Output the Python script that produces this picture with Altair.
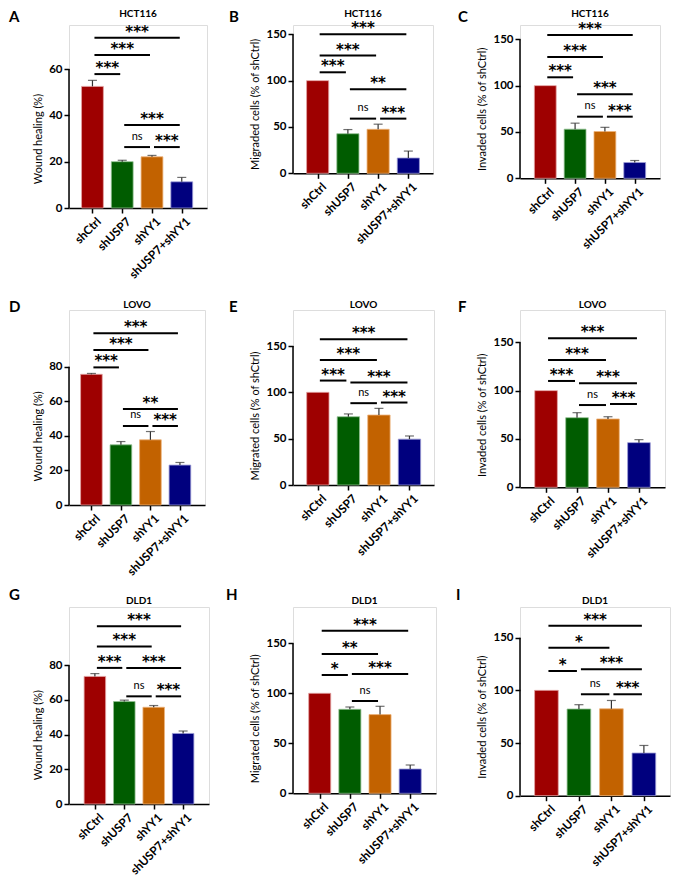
import json
import altair as alt
import pandas as pd

# ---------------- data ----------------
groups = ["shCtrl", "shUSP7", "shYY1", "shUSP7+shYY1"]
bar_colors = ["#9E0000", "#005C00", "#C26200", "#00007E"]
edge_colors = ["#E3A3A3", "#92C092", "#EDB27A", "#9A9AD6"]

panel_letters = ["A", "B", "C", "D", "E", "F", "G", "H", "I"]
cell_lines = ["HCT116", "HCT116", "HCT116", "LOVO", "LOVO", "LOVO", "DLD1", "DLD1", "DLD1"]
y_titles = [
    "Wound healing (%)", "Migraded cells (% of shCtrl)", "Invaded cells (% of shCtrl)",
    "Wound healing (%)", "Migrated cells (% of shCtrl)", "Invaded cells (% of shCtrl)",
    "Wound healing (%)", "Migrated cells (% of shCtrl)", "Invaded cells (% of shCtrl)",
]

A_mean = [52.5, 20.0, 22.1, 11.3]
A_err = [2.6, 0.6, 0.6, 1.9]
B_mean = [100, 42.7, 47.5, 16.5]
B_err = [0, 4.5, 5.5, 7.5]
C_mean = [100, 53.0, 50.5, 17.0]
C_err = [0, 6.5, 4.5, 2.2]
D_mean = [75.6, 34.8, 37.7, 23.1]
D_err = [0.5, 1.9, 4.8, 1.5]
E_mean = [100, 73.7, 75.5, 49.5]
E_err = [0, 3.0, 7.2, 3.4]
F_mean = [100, 72.0, 70.7, 46.2]
F_err = [0, 5.2, 2.3, 3.1]
G_mean = [73.6, 59.1, 55.8, 40.7]
G_err = [1.6, 0.8, 1.0, 1.4]
H_mean = [100, 84.0, 78.7, 24.3]
H_err = [0, 2.3, 8.3, 4.0]
I_mean = [100, 82.3, 82.5, 40.5]
I_err = [0, 4.1, 7.9, 7.2]

# significance brackets: (from group, to group, level, label)
A_sig = [(0, 3, 73.5, "***"), (0, 2, 66.0, "***"), (0, 1, 57.8, "***"),
         (1, 3, 35.8, "***"), (1, 2, 26.3, "ns"), (2, 3, 26.3, "***")]
B_sig = [(0, 3, 150.0, "***"), (0, 2, 127.0, "***"), (0, 1, 109.0, "***"),
         (1, 3, 90.6, "**"), (1, 2, 59.0, "ns"), (2, 3, 59.0, "***")]
C_sig = [(0, 3, 154.6, "***"), (0, 2, 131.0, "***"), (0, 1, 109.0, "***"),
         (1, 3, 90.6, "***"), (1, 2, 66.5, "ns"), (2, 3, 66.5, "***")]
D_sig = [(0, 3, 99.3, "***"), (0, 2, 89.6, "***"), (0, 1, 79.6, "***"),
         (1, 3, 55.5, "**"), (1, 2, 45.7, "ns"), (2, 3, 45.7, "***")]
E_sig = [(0, 3, 157.2, "***"), (0, 2, 134.9, "***"), (0, 1, 112.7, "***"),
         (1, 3, 110.5, "***"), (1, 2, 88.3, "ns"), (2, 3, 89.0, "***")]
F_sig = [(0, 3, 154.2, "***"), (0, 2, 131.7, "***"), (0, 1, 110.0, "***"),
         (1, 3, 107.6, "***"), (1, 2, 85.1, "ns"), (2, 3, 86.2, "***")]
G_sig = [(0, 3, 102.5, "***"), (0, 2, 90.9, "***"), (0, 1, 78.5, "***"),
         (1, 3, 78.5, "***"), (1, 2, 62.1, "ns"), (2, 3, 62.1, "***")]
H_sig = [(0, 3, 162.6, "***"), (0, 2, 139.3, "**"), (0, 1, 118.3, "*"),
         (1, 3, 119.3, "***"), (1, 2, 92.3, "ns")]
I_sig = [(0, 3, 161.4, "***"), (0, 2, 140.5, "*"), (0, 1, 118.4, "*"),
         (1, 3, 120.0, "***"), (1, 2, 96.3, "ns"), (2, 3, 96.3, "***")]

means = [A_mean, B_mean, C_mean, D_mean, E_mean, F_mean, G_mean, H_mean, I_mean]
errs = [A_err, B_err, C_err, D_err, E_err, F_err, G_err, H_err, I_err]
sigs = [A_sig, B_sig, C_sig, D_sig, E_sig, F_sig, G_sig, H_sig, I_sig]

axis_max = [60, 150, 150, 80, 150, 150, 80, 150, 150]
tick_step = [20, 50, 50, 20, 50, 50, 20, 50, 50]

# ---------------- layout (pixels) ----------------
widths = [138, 140, 140, 136, 141, 145, 140, 143, 150]
x_lo = [0.62, 0.65, 0.68, 0.59, 0.65, 0.68, 0.71, 0.72, 0.66]
x_hi = [0.68, 0.65, 0.68, 0.68, 0.64, 0.68, 0.71, 0.69, 0.65]
axis_px = [139, 139, 139, 138.3, 139, 145, 138.7, 150, 158]
row_top = [25, 310, 607]
y0_abs = [208, 173.3, 178.3, 505, 485, 487.3, 804, 793.3, 795.7]
letter_dx = [-60, -64, -62, -60, -64, -62, -60, -67, -64]
letter_dy = [-8, -8, -8, -3, -3, -3, -12, -12, -12]
title_dy = [-11, -11, -11, -5, -5, -5, -6, -6, -6]

FONT = "Lato"
label_expr = json.dumps(groups) + "[datum.value]"


def make_panel(p):
    top = row_top[p // 3]
    height = y0_abs[p] - top
    k = axis_px[p] / axis_max[p]
    ymax = height / k
    w = widths[p]
    spacing = w / (3 + x_lo[p] + x_hi[p])
    bw = 0.68 * spacing

    df = pd.DataFrame({
        "group": groups,
        "idx": list(range(len(groups))),
        "mean": means[p],
        "err": errs[p],
    })
    df["top"] = df["mean"] + df["err"]
    sig = pd.DataFrame(sigs[p], columns=["x1", "x2", "level", "label"])

    xs = alt.Scale(domain=[-x_lo[p], 3 + x_hi[p]], nice=False, zero=False)
    ys = alt.Scale(domain=[0, ymax], nice=False, zero=True)

    xaxis = alt.Axis(
        values=[0, 1, 2, 3], labelExpr=label_expr, title=None, grid=False,
        domain=True, domainColor="black", domainWidth=1.5,
        ticks=True, tickSize=5, tickWidth=1.5, tickColor="black",
        labelAngle=-45, labelAlign="right", labelBaseline="middle",
        labelFont=FONT, labelFontWeight="bold", labelFontSize=11.8,
        labelColor="black", labelPadding=6, labelOffset=6,
        labelFlush=False, labelOverlap=False,
    )
    ticks = list(range(0, axis_max[p] + 1, tick_step[p]))
    yaxis = alt.Axis(
        values=ticks, title=y_titles[p], grid=False, domain=False,
        ticks=True, tickSize=5, tickWidth=1.5, tickColor="black",
        labelFont=FONT, labelFontWeight="bold", labelFontSize=11.5,
        labelColor="black", labelPadding=2, labelFlush=False,
        titleFont=FONT, titleFontWeight="normal", titleFontSize=11,
        titleColor="black", titlePadding=5,
        titleY=height - axis_px[p] / 2,
    )

    bars = alt.Chart(df).mark_bar(size=bw, strokeWidth=0.8).encode(
        x=alt.X("idx:Q", scale=xs, axis=xaxis),
        y=alt.Y("mean:Q", scale=ys, axis=yaxis),
        fill=alt.Fill("group:N", scale=alt.Scale(domain=groups, range=bar_colors), legend=None),
        stroke=alt.Stroke("group:N", scale=alt.Scale(domain=groups, range=edge_colors), legend=None),
    )
    eb = alt.Chart(df).transform_filter("datum.err > 0")
    err_rule = eb.mark_rule(color="#333333", strokeWidth=1.2).encode(
        x=alt.X("idx:Q", scale=xs),
        y=alt.Y("mean:Q", scale=ys),
        y2="top:Q",
    )
    err_cap = eb.mark_tick(orient="horizontal", size=9, thickness=1.2, color="#333333").encode(
        x=alt.X("idx:Q", scale=xs),
        y=alt.Y("top:Q", scale=ys),
    )
    yline = alt.Chart(pd.DataFrame({"lo": [0], "hi": [axis_max[p]]})).mark_rule(
        color="black", strokeWidth=1.5
    ).encode(
        x=alt.value(0),
        y=alt.Y("lo:Q", scale=ys),
        y2="hi:Q",
    )
    sb = alt.Chart(sig).transform_calculate(mid="(datum.x1 + datum.x2) / 2")
    brackets = sb.mark_rule(color="black", strokeWidth=2, xOffset=2, x2Offset=-2).encode(
        x=alt.X("x1:Q", scale=xs),
        x2="x2:Q",
        y=alt.Y("level:Q", scale=ys),
    )
    stars = sb.transform_filter("datum.label != 'ns'").mark_text(
        font="DejaVu Sans", fontWeight="bold", fontSize=15, baseline="alphabetic",
        align="center", dy=-1, color="black",
    ).encode(
        x=alt.X("mid:Q", scale=xs),
        y=alt.Y("level:Q", scale=ys),
        text="label:N",
    )
    ns = sb.transform_filter("datum.label == 'ns'").mark_text(
        font=FONT, fontSize=11, baseline="alphabetic", align="center", dy=-7.5, color="black",
    ).encode(
        x=alt.X("mid:Q", scale=xs),
        y=alt.Y("level:Q", scale=ys),
        text="label:N",
    )
    title = alt.Chart(pd.DataFrame({"t": [cell_lines[p]]})).mark_text(
        font=FONT, fontWeight="bold", fontSize=10, baseline="middle", align="center", color="black",
    ).encode(text="t:N", x=alt.value(w / 2), y=alt.value(title_dy[p]))
    letter = alt.Chart(pd.DataFrame({"t": [panel_letters[p]]})).mark_text(
        font=FONT, fontWeight="bold", fontSize=15, baseline="middle", align="left", color="black",
    ).encode(text="t:N", x=alt.value(letter_dx[p]), y=alt.value(letter_dy[p]))

    return alt.layer(bars, err_rule, err_cap, yline, brackets, stars, ns, title, letter).properties(
        width=w, height=height
    )


panels = [make_panel(p) for p in range(9)]

chart = alt.concat(
    *panels, columns=3, spacing={"row": 102, "column": 84}, bounds="flush"
).properties(padding=0).configure_view(strokeWidth=0).configure(font=FONT)

chart.save("out.html", embed_options={"renderer": "svg", "actions": False})
